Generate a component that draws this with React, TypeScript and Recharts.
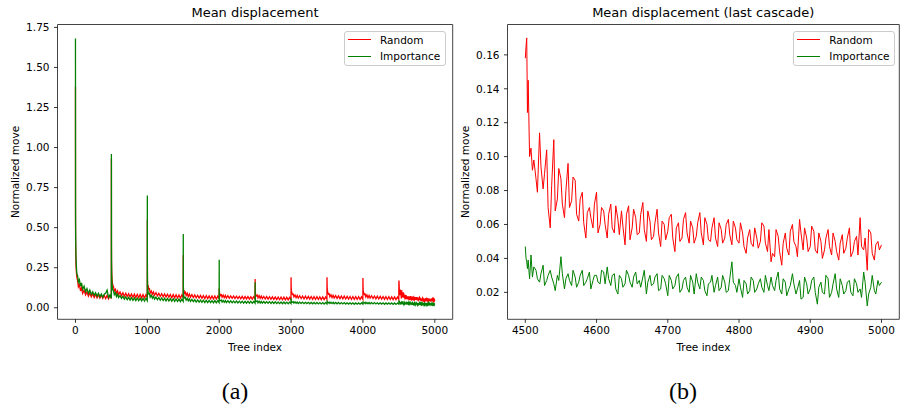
import React from 'react';
import { LineChart, Line, XAxis, YAxis, Legend, ReferenceLine } from 'recharts';

// tree offsets inside one cascade of 500 trees (left panel)
const OFFSETS = [0, 1, 2, 4, 7, 10, 15, 20, 30, 40, 55, 70, 85, 100, 120, 140, 160, 180, 200, 220, 240, 260, 280, 300, 320, 340, 360, 380, 400, 420, 440, 460, 480, 499];

// cascades 0..8, one row per cascade, values at OFFSETS
const RANDOM_CASCADES = [
  [1.38, 0.53, 0.42, 0.33, 0.27, 0.24, 0.21, 0.19, 0.17, 0.13, 0.145, 0.105, 0.125, 0.09, 0.11, 0.08, 0.10, 0.072, 0.092, 0.068, 0.088, 0.064, 0.085, 0.062, 0.082, 0.06, 0.08, 0.058, 0.078, 0.057, 0.077, 0.056, 0.075, 0.058],
  [0.93, 0.42, 0.30, 0.24, 0.2, 0.17, 0.15, 0.14, 0.13, 0.105, 0.115, 0.09, 0.105, 0.082, 0.098, 0.076, 0.094, 0.072, 0.09, 0.07, 0.088, 0.068, 0.086, 0.066, 0.085, 0.064, 0.084, 0.063, 0.083, 0.062, 0.082, 0.061, 0.081, 0.063],
  [0.55, 0.2, 0.16, 0.14, 0.13, 0.125, 0.13, 0.115, 0.118, 0.092, 0.104, 0.084, 0.098, 0.078, 0.094, 0.074, 0.09, 0.071, 0.088, 0.069, 0.086, 0.067, 0.084, 0.065, 0.083, 0.063, 0.082, 0.062, 0.081, 0.061, 0.08, 0.06, 0.079, 0.062],
  [0.33, 0.15, 0.12, 0.11, 0.1, 0.095, 0.1, 0.09, 0.096, 0.076, 0.09, 0.07, 0.086, 0.066, 0.082, 0.064, 0.08, 0.062, 0.078, 0.06, 0.077, 0.059, 0.076, 0.058, 0.075, 0.057, 0.074, 0.056, 0.074, 0.055, 0.073, 0.055, 0.072, 0.056],
  [0.12, 0.095, 0.088, 0.085, 0.08, 0.084, 0.076, 0.08, 0.082, 0.066, 0.079, 0.063, 0.077, 0.061, 0.075, 0.06, 0.074, 0.059, 0.073, 0.058, 0.072, 0.057, 0.071, 0.056, 0.071, 0.055, 0.07, 0.055, 0.07, 0.054, 0.069, 0.054, 0.069, 0.055],
  [0.18, 0.12, 0.1, 0.09, 0.085, 0.08, 0.078, 0.074, 0.078, 0.062, 0.076, 0.059, 0.073, 0.057, 0.071, 0.055, 0.07, 0.054, 0.069, 0.053, 0.068, 0.052, 0.067, 0.051, 0.067, 0.05, 0.066, 0.05, 0.066, 0.049, 0.065, 0.049, 0.065, 0.05],
  [0.19, 0.15, 0.13, 0.11, 0.1, 0.095, 0.088, 0.083, 0.085, 0.068, 0.08, 0.063, 0.077, 0.06, 0.075, 0.058, 0.073, 0.056, 0.072, 0.055, 0.071, 0.054, 0.07, 0.053, 0.069, 0.052, 0.069, 0.052, 0.068, 0.051, 0.068, 0.051, 0.067, 0.052],
  [0.19, 0.16, 0.13, 0.115, 0.105, 0.098, 0.09, 0.085, 0.087, 0.069, 0.081, 0.064, 0.078, 0.061, 0.076, 0.059, 0.074, 0.057, 0.073, 0.056, 0.072, 0.055, 0.071, 0.054, 0.07, 0.053, 0.07, 0.053, 0.069, 0.052, 0.069, 0.052, 0.068, 0.053],
  [0.185, 0.15, 0.125, 0.11, 0.1, 0.094, 0.087, 0.082, 0.085, 0.067, 0.08, 0.062, 0.077, 0.06, 0.075, 0.058, 0.073, 0.056, 0.072, 0.055, 0.071, 0.054, 0.07, 0.053, 0.069, 0.052, 0.069, 0.052, 0.068, 0.051, 0.068, 0.051, 0.067, 0.052],
];

const IMPORTANCE_CASCADES = [
  [1.68, 0.63, 0.50, 0.40, 0.32, 0.28, 0.24, 0.21, 0.20, 0.16, 0.175, 0.135, 0.155, 0.115, 0.135, 0.10, 0.12, 0.09, 0.11, 0.083, 0.10, 0.078, 0.094, 0.072, 0.09, 0.068, 0.086, 0.066, 0.084, 0.09, 0.11, 0.064, 0.08, 0.06],
  [0.96, 0.38, 0.27, 0.2, 0.16, 0.14, 0.12, 0.11, 0.105, 0.082, 0.094, 0.07, 0.084, 0.064, 0.077, 0.058, 0.072, 0.054, 0.068, 0.05, 0.065, 0.048, 0.063, 0.046, 0.062, 0.045, 0.061, 0.044, 0.06, 0.043, 0.059, 0.042, 0.058, 0.044],
  [0.70, 0.25, 0.17, 0.13, 0.11, 0.1, 0.09, 0.085, 0.088, 0.066, 0.078, 0.06, 0.072, 0.054, 0.067, 0.05, 0.064, 0.047, 0.061, 0.045, 0.059, 0.043, 0.058, 0.042, 0.057, 0.041, 0.056, 0.04, 0.055, 0.039, 0.054, 0.038, 0.053, 0.04],
  [0.46, 0.16, 0.11, 0.085, 0.075, 0.068, 0.063, 0.06, 0.064, 0.047, 0.058, 0.043, 0.055, 0.04, 0.052, 0.038, 0.05, 0.036, 0.049, 0.035, 0.048, 0.034, 0.047, 0.033, 0.046, 0.032, 0.046, 0.032, 0.045, 0.031, 0.045, 0.031, 0.044, 0.032],
  [0.30, 0.1, 0.07, 0.055, 0.05, 0.048, 0.045, 0.044, 0.048, 0.036, 0.046, 0.034, 0.045, 0.033, 0.044, 0.032, 0.043, 0.031, 0.042, 0.031, 0.042, 0.03, 0.041, 0.03, 0.041, 0.029, 0.04, 0.029, 0.04, 0.029, 0.04, 0.028, 0.039, 0.029],
  [0.16, 0.07, 0.055, 0.048, 0.045, 0.042, 0.04, 0.039, 0.042, 0.031, 0.041, 0.03, 0.04, 0.029, 0.039, 0.028, 0.038, 0.028, 0.038, 0.027, 0.037, 0.027, 0.037, 0.026, 0.036, 0.026, 0.036, 0.025, 0.036, 0.025, 0.035, 0.025, 0.035, 0.026],
  [0.06, 0.045, 0.04, 0.038, 0.036, 0.035, 0.034, 0.035, 0.038, 0.029, 0.037, 0.028, 0.036, 0.027, 0.035, 0.027, 0.035, 0.026, 0.034, 0.026, 0.034, 0.025, 0.033, 0.025, 0.033, 0.024, 0.033, 0.024, 0.032, 0.024, 0.032, 0.023, 0.032, 0.024],
  [0.045, 0.038, 0.035, 0.034, 0.033, 0.032, 0.033, 0.031, 0.035, 0.027, 0.034, 0.026, 0.034, 0.025, 0.033, 0.025, 0.033, 0.024, 0.032, 0.024, 0.032, 0.023, 0.031, 0.023, 0.031, 0.023, 0.031, 0.022, 0.03, 0.022, 0.03, 0.022, 0.03, 0.023],
  [0.04, 0.035, 0.033, 0.032, 0.031, 0.03, 0.031, 0.029, 0.034, 0.026, 0.033, 0.025, 0.033, 0.025, 0.032, 0.024, 0.032, 0.024, 0.031, 0.023, 0.031, 0.023, 0.031, 0.022, 0.03, 0.022, 0.03, 0.022, 0.03, 0.021, 0.03, 0.021, 0.029, 0.022],
];

// last cascade (trees 4500..5000): main samples and in-between samples
const LAST_OFFSETS = [0, 1, 2, 3, 4, 6, 8, ...Array.from({ length: 99 }, (_, i) => 10 + 5 * i)];
const LAST_MID_OFFSETS = Array.from({ length: 98 }, (_, i) => 12 + 5 * i);

const LAST_RANDOM = [
  0.158, 0.165, 0.170, 0.126, 0.145, 0.100, 0.105,
  0.092, 0.087, 0.114, 0.081, 0.104, 0.058, 0.110, 0.075, 0.087, 0.064,
  0.096, 0.074, 0.086, 0.062, 0.079, 0.052, 0.070, 0.058, 0.079, 0.060,
  0.068, 0.052, 0.072, 0.055, 0.063, 0.068, 0.048, 0.071, 0.058, 0.064,
  0.055, 0.073, 0.050, 0.062, 0.053, 0.069, 0.047, 0.060, 0.056, 0.066,
  0.044, 0.061, 0.052, 0.067, 0.049, 0.058, 0.053, 0.067, 0.048, 0.060,
  0.050, 0.064, 0.047, 0.057, 0.052, 0.063, 0.048, 0.058, 0.049, 0.055,
  0.043, 0.057, 0.047, 0.052, 0.050, 0.059, 0.044, 0.038, 0.041, 0.053,
  0.036, 0.055, 0.042, 0.060, 0.047, 0.063, 0.045, 0.052, 0.047, 0.056,
  0.043, 0.050, 0.045, 0.057, 0.042, 0.050, 0.039, 0.054, 0.046, 0.058,
  0.044, 0.053, 0.064, 0.045, 0.033, 0.055, 0.039, 0.050, 0.048,
];

const LAST_RANDOM_MID = [
  0.098, 0.079, 0.094, 0.090, 0.070, 0.083, 0.068, 0.093, 0.072, 0.080,
  0.070, 0.088, 0.066, 0.075, 0.061, 0.067, 0.064, 0.072, 0.055, 0.070,
  0.060, 0.066, 0.058, 0.071, 0.054, 0.059, 0.066, 0.051, 0.069, 0.054,
  0.066, 0.057, 0.068, 0.051, 0.061, 0.055, 0.062, 0.051, 0.064, 0.052,
  0.058, 0.050, 0.063, 0.055, 0.062, 0.049, 0.061, 0.055, 0.064, 0.051,
  0.058, 0.052, 0.061, 0.049, 0.060, 0.054, 0.062, 0.051, 0.061, 0.047,
  0.052, 0.049, 0.058, 0.046, 0.061, 0.049, 0.057, 0.043, 0.057, 0.044,
  0.049, 0.046, 0.056, 0.050, 0.041, 0.055, 0.058, 0.044, 0.059, 0.045,
  0.055, 0.040, 0.052, 0.047, 0.055, 0.044, 0.049, 0.043, 0.052, 0.041,
  0.050, 0.042, 0.047, 0.052, 0.057, 0.043, 0.048, 0.045,
];

const LAST_IMPORTANCE = [
  0.047, 0.040, 0.038, 0.034, 0.039, 0.028, 0.042,
  0.029, 0.033, 0.026, 0.036, 0.027, 0.033, 0.025, 0.030, 0.041, 0.022,
  0.031, 0.024, 0.029, 0.026, 0.033, 0.026, 0.032, 0.027, 0.030, 0.025,
  0.032, 0.035, 0.024, 0.031, 0.019, 0.028, 0.025, 0.030, 0.023, 0.032,
  0.027, 0.029, 0.019, 0.030, 0.025, 0.031, 0.022, 0.028, 0.018, 0.027,
  0.024, 0.031, 0.022, 0.029, 0.020, 0.026, 0.031, 0.022, 0.027, 0.018,
  0.026, 0.020, 0.029, 0.023, 0.026, 0.021, 0.038, 0.024, 0.028, 0.017,
  0.025, 0.021, 0.027, 0.022, 0.028, 0.020, 0.024, 0.029, 0.021, 0.032,
  0.019, 0.026, 0.022, 0.031, 0.019, 0.027, 0.017, 0.025, 0.022, 0.029,
  0.013, 0.026, 0.019, 0.028, 0.020, 0.031, 0.017, 0.024, 0.021, 0.027,
  0.018, 0.025, 0.022, 0.032, 0.012, 0.023, 0.021, 0.027, 0.026,
];

const LAST_IMPORTANCE_MID = [
  0.035, 0.028, 0.031, 0.024, 0.030, 0.029, 0.021, 0.027, 0.031, 0.028,
  0.027, 0.033, 0.023, 0.030, 0.024, 0.028, 0.022, 0.030, 0.026, 0.033,
  0.025, 0.028, 0.030, 0.022, 0.030, 0.023, 0.033, 0.026, 0.029, 0.025,
  0.023, 0.033, 0.026, 0.024, 0.029, 0.021, 0.030, 0.025, 0.030, 0.022,
  0.029, 0.020, 0.027, 0.023, 0.030, 0.019, 0.026, 0.029, 0.021, 0.025,
  0.030, 0.024, 0.021, 0.030, 0.020, 0.028, 0.026, 0.020, 0.023, 0.027,
  0.019, 0.029, 0.020, 0.025, 0.023, 0.030, 0.021, 0.024, 0.027, 0.022,
  0.028, 0.018, 0.024, 0.025, 0.022, 0.016, 0.029, 0.019, 0.027, 0.020,
  0.023, 0.020, 0.030, 0.017, 0.025, 0.022, 0.028, 0.019, 0.026, 0.020,
  0.028, 0.020, 0.017, 0.026, 0.019, 0.030, 0.019, 0.024,
];

const LEFT_X_TICKS = [0, 1000, 2000, 3000, 4000, 5000];
const LEFT_Y_TICKS = [0, 0.25, 0.5, 0.75, 1.0, 1.25, 1.5, 1.75];
const RIGHT_X_TICKS = [4500, 4600, 4700, 4800, 4900, 5000];
const RIGHT_Y_TICKS = [0.02, 0.04, 0.06, 0.08, 0.1, 0.12, 0.14, 0.16];

const lastData = [
  ...LAST_OFFSETS.map((o, i) => ({ tree: 4500 + o, random: LAST_RANDOM[i], importance: LAST_IMPORTANCE[i] })),
  ...LAST_MID_OFFSETS.map((o, i) => ({ tree: 4500 + o, random: LAST_RANDOM_MID[i], importance: LAST_IMPORTANCE_MID[i] })),
].sort((a, b) => a.tree - b.tree);

const leftData = [
  ...RANDOM_CASCADES.flatMap((row, c) =>
    OFFSETS.map((o, i) => ({ tree: c * 500 + o, random: row[i], importance: IMPORTANCE_CASCADES[c][i] }))
  ),
  ...lastData,
];

const FONT = '"DejaVu Sans", sans-serif';
const TICK = { fill: '#000', fontSize: 10.5, fontFamily: FONT };
const FRAME = { stroke: '#444', strokeWidth: 1 };
const TICK_LINE = { stroke: '#000', strokeWidth: 0.8 };
const LABEL_STYLE = { fill: '#000', fontSize: 10.5, fontFamily: FONT };

function LegendBox() {
  const rows = [
    { name: 'Random', color: '#ff0000' },
    { name: 'Importance', color: '#008000' },
  ];
  return (
    <div style={{
      width: 102, height: 35, boxSizing: 'border-box', border: '1px solid #cccccc', borderRadius: 3,
      background: 'rgba(255,255,255,0.8)', fontFamily: FONT, fontSize: 10.5, color: '#000',
    }}>
      {rows.map((r) => (
        <div key={r.name} style={{ display: 'flex', alignItems: 'center', height: 16.4, paddingLeft: 3 }}>
          <div style={{ width: 23, height: 0, borderTop: `1px solid ${r.color}`, marginRight: 9 }} />
          <span>{r.name}</span>
        </div>
      ))}
    </div>
  );
}

function Panel({ data, xDomain, yDomain, xTicks, yTicks, width, marginRight, legendLeft, lineWidth }: any) {
  return (
    <LineChart width={width} height={407} data={data}
      margin={{ top: 24.5, right: marginRight, bottom: 55.7, left: 0 }}>
      <XAxis dataKey="tree" type="number" domain={xDomain} ticks={xTicks} allowDataOverflow
        tick={TICK} tickSize={3.5} tickMargin={4} axisLine={FRAME} tickLine={TICK_LINE} height={32}
        label={{ value: 'Tree index', position: 'insideBottom', offset: 0, style: LABEL_STYLE }} />
      <YAxis type="number" domain={yDomain} ticks={yTicks} allowDataOverflow width={57.5}
        tick={TICK} tickSize={3.5} tickMargin={4.5} axisLine={FRAME} tickLine={TICK_LINE}
        tickFormatter={(v: number) => v.toFixed(2)}
        label={{ value: 'Normalized move', angle: -90, position: 'insideLeft', offset: 15, style: { ...LABEL_STYLE, textAnchor: 'middle' } }} />
      <ReferenceLine y={yDomain[1]} stroke="#444" strokeWidth={1} ifOverflow="visible" />
      <ReferenceLine x={xDomain[1]} stroke="#444" strokeWidth={1} ifOverflow="visible" />
      <Legend layout="vertical" align="center" verticalAlign="middle"
        wrapperStyle={{ position: 'absolute', top: 30.5, left: legendLeft, width: 102, height: 35 }}
        content={() => <LegendBox />} />
      <Line dataKey="random" name="Random" stroke="#ff0000" strokeWidth={lineWidth} dot={false} isAnimationActive={false} />
      <Line dataKey="importance" name="Importance" stroke="#008000" strokeWidth={lineWidth} dot={false} isAnimationActive={false} />
    </LineChart>
  );
}

export default function App() {
  const titleStyle: React.CSSProperties = {
    position: 'absolute', top: 5, fontFamily: FONT, fontSize: 13, color: '#000',
    transform: 'translateX(-50%)', whiteSpace: 'nowrap', lineHeight: '16px',
  };
  const capStyle: React.CSSProperties = {
    position: 'absolute', top: 376, fontFamily: '"Liberation Serif", serif', fontSize: 24, color: '#000',
    transform: 'translateX(-50%)', lineHeight: '30px',
  };
  return (
    <div style={{ position: 'absolute', left: 0, top: 0, width: 900, height: 407, background: '#fff', overflow: 'hidden' }}>
      <div style={{ position: 'absolute', left: 0, top: 0 }}>
        <Panel data={leftData} xDomain={[-250, 5249]} yDomain={[-0.072, 1.768]} lineWidth={1.3}
          xTicks={LEFT_X_TICKS} yTicks={LEFT_Y_TICKS} width={460} marginRight={7.3} legendLeft={344} />
      </div>
      <div style={{ position: 'absolute', left: 450, top: 0 }}>
        <Panel data={lastData} xDomain={[4475, 5025]} yDomain={[0.0041, 0.1779]} lineWidth={1}
          xTicks={RIGHT_X_TICKS} yTicks={RIGHT_Y_TICKS} width={450} marginRight={0.7} legendLeft={343.3} />
      </div>
      <div style={{ ...titleStyle, left: 255 }}>Mean displacement</div>
      <div style={{ ...titleStyle, left: 703.3 }}>Mean displacement (last cascade)</div>
      <div style={{ ...capStyle, left: 235 }}>(a)</div>
      <div style={{ ...capStyle, left: 683 }}>(b)</div>
    </div>
  );
}
